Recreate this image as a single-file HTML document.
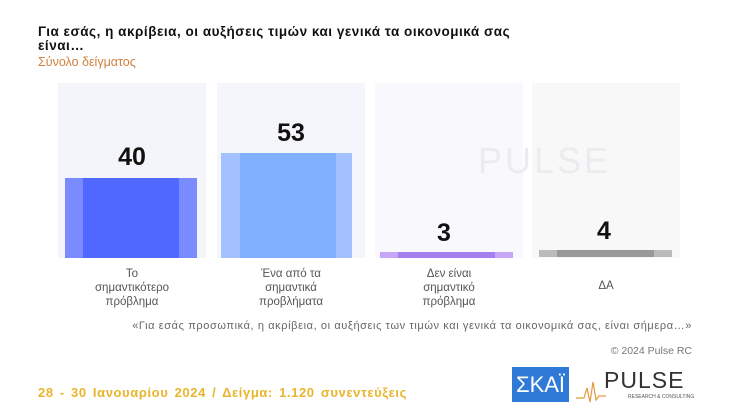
<!DOCTYPE html>
<html><head><meta charset="utf-8"><style>
body{margin:0;width:734px;height:410px;background:#fff;position:relative;overflow:hidden;font-family:"Liberation Sans","Noto Sans CJK SC",sans-serif}
.a{position:absolute}
.bg{position:absolute;top:83px;height:175px;width:148px}
.v{position:absolute;font-weight:bold;font-size:25px;text-align:center;width:148px;color:#111;font-family:"Liberation Sans",sans-serif}
.lab{position:absolute;top:267px;width:148px;text-align:center;font-size:11.5px;line-height:14px;color:#555}
</style></head><body>
<div class="a" style="left:38px;top:25px;font-size:13.5px;font-weight:bold;color:#111;line-height:14px;letter-spacing:0.52px">Για εσάς, η ακρίβεια, οι αυξήσεις τιμών και γενικά τα οικονομικά σας<br>είναι…</div>
<div class="a" style="left:38px;top:55px;font-size:12.5px;color:#d0813f">Σύνολο δείγματος</div>

<div class="bg" style="left:58px;background:#f4f5fb"></div>
<div class="bg" style="left:217px;background:#f4f6fb"></div>
<div class="bg" style="left:375px;background:#f9f8fc"></div>
<div class="bg" style="left:532px;background:#f8f8f8"></div>

<div class="a" style="left:65px;top:178px;width:132px;height:80px;background:#7a8bff"></div>
<div class="a" style="left:83px;top:178px;width:96px;height:80px;background:#5068ff"></div>
<div class="a" style="left:221px;top:153px;width:131px;height:105px;background:#a3c1ff"></div>
<div class="a" style="left:240px;top:153px;width:96px;height:105px;background:#80b0ff"></div>
<div class="a" style="left:380px;top:252px;width:133px;height:6px;background:#c6a6f6"></div>
<div class="a" style="left:398px;top:252px;width:97px;height:6px;background:#a57ef0"></div>
<div class="a" style="left:539px;top:250px;width:133px;height:7px;background:#bbb"></div>
<div class="a" style="left:557px;top:250px;width:97px;height:7px;background:#999"></div>

<div class="v" style="left:58px;top:143px">40</div>
<div class="v" style="left:217px;top:119px">53</div>
<div class="v" style="left:370px;top:219px">3</div>
<div class="v" style="left:530px;top:217px">4</div>

<div class="a" style="left:478px;top:140px;font-size:36px;color:#ececf0;letter-spacing:3px">PULSE</div>

<div class="lab" style="left:58px">Το<br>σημαντικότερο<br>πρόβλημα</div>
<div class="lab" style="left:217px">Ένα από τα<br>σημαντικά<br>προβλήματα</div>
<div class="lab" style="left:375px">Δεν είναι<br>σημαντικό<br>πρόβλημα</div>
<div class="lab" style="left:532px;top:279px">ΔΑ</div>

<div class="a" style="left:0;width:692px;text-align:right;top:320px;font-size:11px;letter-spacing:0.6px;color:#666;white-space:nowrap">«Για εσάς προσωπικά, η ακρίβεια, οι αυξήσεις των τιμών και γενικά τα οικονομικά σας, είναι σήμερα…»</div>
<div class="a" style="left:0;width:692px;text-align:right;top:345px;font-size:10.5px;color:#777">© 2024 Pulse RC</div>

<div class="a" style="left:38px;top:385px;font-size:13px;font-weight:bold;color:#e9b52c;letter-spacing:0.6px;word-spacing:2px">28 - 30 Ιανουαρίου 2024 / Δείγμα: 1.120 συνεντεύξεις</div>

<div class="a" style="left:512px;top:367px;width:57px;height:35px;background:#2f7ad6;color:#fff;font-size:22px;line-height:35px;text-align:center">ΣΚΑΪ</div>
<div class="a" style="left:604px;top:367px;font-size:23px;color:#333;letter-spacing:1px">PULSE</div>
<div class="a" style="left:628px;top:394px;font-size:5px;color:#555">RESEARCH &amp; CONSULTING</div>
<svg class="a" style="left:576px;top:378px" width="30" height="26"><polyline points="0,20 8,20 11,10 14,24 17,4 20,22 23,18 30,18" fill="none" stroke="#e39a3b" stroke-width="1.2"/></svg>
</body></html>
